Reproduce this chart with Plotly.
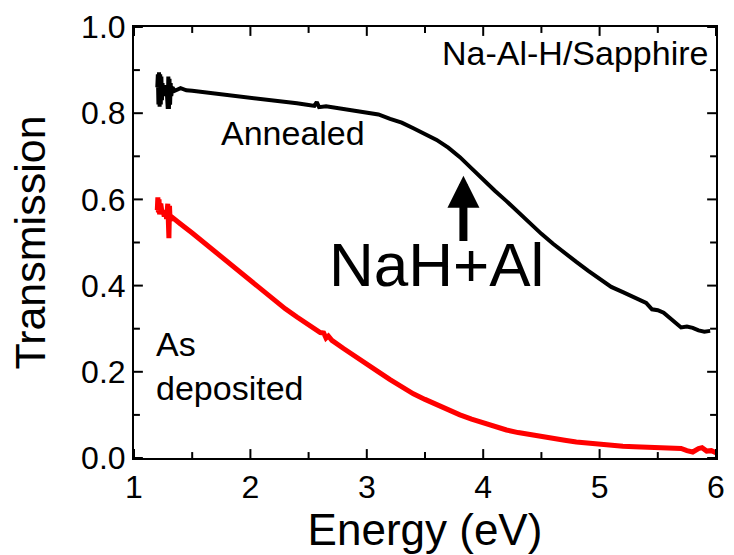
import plotly.graph_objects as go

# Annealed film (black)
annealed_energy = [
    1.20, 1.205, 1.21, 1.215, 1.22, 1.225, 1.23, 1.235, 1.24, 1.245, 1.25, 1.26,
    1.27, 1.28, 1.29, 1.295, 1.30, 1.305, 1.31, 1.315, 1.32, 1.33, 1.35, 1.40,
    1.45, 1.5, 1.6, 1.7, 1.8, 1.9, 2.0, 2.1, 2.2, 2.3, 2.4, 2.5, 2.55, 2.57,
    2.59, 2.65, 2.8, 2.9, 3.0, 3.1, 3.2, 3.3, 3.4, 3.5, 3.6, 3.7, 3.8, 3.9,
    4.0, 4.1, 4.2, 4.3, 4.4, 4.5, 4.6, 4.7, 4.8, 4.9, 5.0, 5.1, 5.2, 5.3,
    5.35, 5.4, 5.45, 5.5, 5.55, 5.6, 5.65, 5.7, 5.75, 5.8, 5.85, 5.9, 5.95,
]
annealed_trans = [
    0.86, 0.89, 0.82, 0.895, 0.815, 0.89, 0.82, 0.885, 0.83, 0.87, 0.84, 0.865,
    0.85, 0.86, 0.81, 0.885, 0.81, 0.88, 0.82, 0.87, 0.84, 0.86, 0.852, 0.858,
    0.853, 0.852, 0.849, 0.846, 0.843, 0.840, 0.837, 0.834, 0.830, 0.826, 0.823, 0.819, 0.817, 0.826,
    0.814, 0.816, 0.810, 0.807, 0.803, 0.797, 0.787, 0.778, 0.765, 0.752, 0.738, 0.720, 0.698, 0.672,
    0.645, 0.620, 0.596, 0.570, 0.545, 0.520, 0.497, 0.475, 0.455, 0.435, 0.415, 0.397, 0.385, 0.372,
    0.366, 0.360, 0.345, 0.343, 0.337, 0.325, 0.315, 0.303, 0.305, 0.302, 0.296, 0.293, 0.295,
]

# As-deposited film (red)
deposited_energy = [
    1.20, 1.205, 1.21, 1.215, 1.22, 1.23, 1.24, 1.25, 1.26, 1.27, 1.28, 1.29,
    1.30, 1.305, 1.31, 1.32, 1.35, 1.4, 1.5, 1.6, 1.7, 1.8, 1.9, 2.0, 2.1,
    2.2, 2.3, 2.4, 2.5, 2.6, 2.63, 2.65, 2.67, 2.7, 2.8, 2.9, 3.0, 3.1, 3.2,
    3.3, 3.4, 3.5, 3.6, 3.7, 3.8, 3.9, 4.0, 4.1, 4.2, 4.3, 4.4, 4.5, 4.6,
    4.7, 4.8, 4.9, 5.0, 5.1, 5.2, 5.3, 5.4, 5.5, 5.6, 5.7, 5.75, 5.8, 5.85,
    5.88, 5.92, 5.96, 6.0,
]
deposited_trans = [
    0.575, 0.605, 0.57, 0.60, 0.565, 0.59, 0.57, 0.575, 0.56, 0.575, 0.555, 0.59,
    0.51, 0.585, 0.55, 0.56, 0.553, 0.543, 0.522, 0.500, 0.478, 0.457, 0.434, 0.411, 0.388,
    0.367, 0.346, 0.327, 0.309, 0.291, 0.290, 0.278, 0.283, 0.273, 0.254, 0.237, 0.219, 0.200, 0.182,
    0.165, 0.149, 0.136, 0.123, 0.111, 0.100, 0.090, 0.081, 0.073, 0.065, 0.059, 0.054, 0.049, 0.045,
    0.041, 0.037, 0.034, 0.031, 0.029, 0.027, 0.026, 0.025, 0.024, 0.023, 0.022, 0.017, 0.014, 0.022,
    0.024, 0.016, 0.017, 0.012,
]

x_major_ticks = [1, 2, 3, 4, 5, 6]
x_minor_ticks = [1.5, 2.5, 3.5, 4.5, 5.5]
y_major_ticks = [0.0, 0.2, 0.4, 0.6, 0.8, 1.0]
y_minor_ticks = [0.1, 0.3, 0.5, 0.7, 0.9]

FONT = "Liberation Sans, Arial, Helvetica, sans-serif"
W, H = 734, 555
MARGIN = dict(l=134, r=9, t=23, b=97)
PLOT_W = W - MARGIN["l"] - MARGIN["r"]
PLOT_H = H - MARGIN["t"] - MARGIN["b"]
MAJOR_LEN, MINOR_LEN = 9, 6

fig = go.Figure()
fig.add_trace(go.Scatter(x=deposited_energy, y=deposited_trans, mode="lines",
                         line=dict(color="#ff0000", width=5), showlegend=False))
fig.add_trace(go.Scatter(x=annealed_energy, y=annealed_trans, mode="lines",
                         line=dict(color="#000000", width=4), showlegend=False))

fig.update_xaxes(
    range=[x_major_ticks[0], x_major_ticks[-1]], tickmode="array", tickvals=x_major_ticks,
    ticktext=[str(v) for v in x_major_ticks],
    showline=True, linecolor="black", linewidth=2, mirror=True, ticks="",
    showgrid=False, zeroline=False,
    tickfont=dict(family=FONT, size=32, color="black"),
    title=dict(text="Energy (eV)", font=dict(family=FONT, size=44, color="black"), standoff=6),
)
fig.update_yaxes(
    range=[y_major_ticks[0], y_major_ticks[-1]], tickmode="array", tickvals=y_major_ticks,
    ticktext=[f"{v:.1f}" for v in y_major_ticks],
    showline=True, linecolor="black", linewidth=2, mirror=True, ticks="",
    showgrid=False, zeroline=False,
    tickfont=dict(family=FONT, size=32, color="black"),
    title=dict(text="Transmission", font=dict(family=FONT, size=43, color="black"), standoff=22),
)

# Inward tick marks on all four sides of the frame
tick_line = dict(color="black", width=2)
for vals, length in ((x_major_ticks, MAJOR_LEN), (x_minor_ticks, MINOR_LEN)):
    frac = length / PLOT_H
    for v in vals:
        fig.add_shape(type="line", xref="x", yref="y domain", x0=v, x1=v, y0=0, y1=frac,
                      line=tick_line, layer="above")
        fig.add_shape(type="line", xref="x", yref="y domain", x0=v, x1=v, y0=1, y1=1 - frac,
                      line=tick_line, layer="above")
for vals, length in ((y_major_ticks, MAJOR_LEN), (y_minor_ticks, MINOR_LEN)):
    frac = length / PLOT_W
    for v in vals:
        fig.add_shape(type="line", xref="x domain", yref="y", x0=0, x1=frac, y0=v, y1=v,
                      line=tick_line, layer="above")
        fig.add_shape(type="line", xref="x domain", yref="y", x0=1, x1=1 - frac, y0=v, y1=v,
                      line=tick_line, layer="above")

fig.add_annotation(x=5.95, y=0.94, xref="x", yref="y", text="Na-Al-H/Sapphire",
                   showarrow=False, xanchor="right", yanchor="middle",
                   font=dict(family=FONT, size=34, color="black"))
fig.add_annotation(x=2.37, y=0.755, xref="x", yref="y", text="Annealed",
                   showarrow=False, xanchor="center", yanchor="middle",
                   font=dict(family=FONT, size=34, color="black"))
fig.add_annotation(x=1.17, y=0.213, xref="x", yref="y", text="As<br>deposited",
                   showarrow=False, xanchor="left", yanchor="middle", align="left",
                   font=dict(family=FONT, size=34, color="black"))
fig.add_annotation(x=3.60, y=0.45, xref="x", yref="y", text="NaH+Al",
                   showarrow=False, xanchor="center", yanchor="middle",
                   font=dict(family=FONT, size=62, color="black"))
# Arrow pointing at the NaH+Al absorption edge
fig.add_annotation(x=3.83, y=0.655, ax=3.83, ay=0.50, xref="x", yref="y",
                   axref="x", ayref="y", text="", showarrow=True,
                   arrowhead=2, arrowsize=0.8, arrowwidth=8, arrowcolor="black")

fig.update_layout(
    width=W, height=H, margin=MARGIN,
    paper_bgcolor="white", plot_bgcolor="white",
    font=dict(family=FONT, color="black"),
)

fig.write_html("out.html")
